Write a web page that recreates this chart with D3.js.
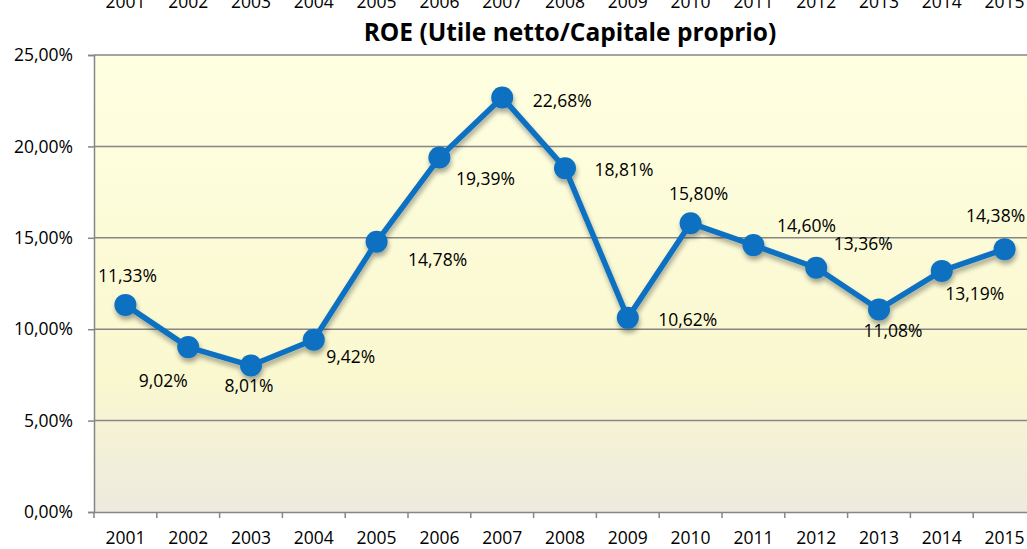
<!DOCTYPE html>
<html><head><meta charset="utf-8">
<script src="https://cdn.jsdelivr.net/npm/d3@7"></script>
<style>body{margin:0;background:#fff;overflow:hidden}svg{display:block}</style>
</head><body>
<svg id="c" width="1027" height="549"></svg>
<script>
const years = ["2001","2002","2003","2004","2005","2006","2007","2008","2009","2010","2011","2012","2013","2014","2015"];
const roe = [11.33, 9.02, 8.01, 9.42, 14.78, 19.39, 22.68, 18.81, 10.62, 15.80, 14.60, 13.36, 11.08, 13.19, 14.38];
const yTicks = [0, 5, 10, 15, 20, 25];
const title = "ROE (Utile netto/Capitale proprio)";
// label placement offsets (styling)
const labelDx = [2, -25, -2, 37, 61, 46, 60, 59, 60, 8, 53, 47, 14, 33, -9];
const labelDy = [-29, 34, 20, 17, 18, 21, 3, 2, 2, -29, -19, -24, 21, 23, -33];

const svg = d3.select("#c");
const L = 94, T = 55, B = 512, bw = 62.8;
const R = L + bw * years.length;
const FONT = "'Open Sans', 'Noto Sans', sans-serif";
const FS = 17.5;
const fmt = v => d3.format(".2f")(v).replace(".", ",") + "%";

const x = d3.scaleBand().domain(years).range([L, R]).padding(0);
const y = d3.scaleLinear().domain([0, 25]).range([B, T]);

const defs = svg.append("defs");
const g = defs.append("linearGradient").attr("id", "bg").attr("x1", 0).attr("y1", 0).attr("x2", 0).attr("y2", 1);
g.append("stop").attr("offset", "0%").attr("stop-color", "#FFFFE2");
g.append("stop").attr("offset", "70%").attr("stop-color", "#FAF8CF");
g.append("stop").attr("offset", "100%").attr("stop-color", "#EDEADF");
const f = defs.append("filter").attr("id", "sh").attr("x", "-10%").attr("y", "-10%").attr("width", "130%").attr("height", "140%");
f.append("feGaussianBlur").attr("in", "SourceAlpha").attr("stdDeviation", 2.5).attr("result", "b");
f.append("feOffset").attr("in", "b").attr("dx", 1).attr("dy", 4).attr("result", "o");
f.append("feComponentTransfer").attr("in", "o").attr("result", "o2").append("feFuncA").attr("type", "linear").attr("slope", 0.35);
const m = f.append("feMerge");
m.append("feMergeNode").attr("in", "o2");
m.append("feMergeNode").attr("in", "SourceGraphic");

svg.append("rect").attr("x", L).attr("y", T).attr("width", R - L).attr("height", B - T).attr("fill", "url(#bg)");

// gridlines
svg.append("g").selectAll("line").data(yTicks.filter(d => d > 0)).join("line")
  .attr("x1", L).attr("x2", R).attr("y1", d => y(d)).attr("y2", d => y(d))
  .attr("stroke", "#868686").attr("stroke-width", 1.5);

// y axis
const ya = svg.append("g").attr("transform", `translate(${L},0)`)
  .call(d3.axisLeft(y).tickValues(yTicks).tickSize(6).tickPadding(15).tickFormat(fmt));
ya.select(".domain").attr("stroke", "#868686").attr("stroke-width", 1.5);
ya.selectAll(".tick line").attr("stroke", "#868686").attr("stroke-width", 1.5);
ya.selectAll("text").attr("font-family", FONT).attr("font-size", FS).attr("fill", "#000");

// x axis (ticks at band boundaries)
const xa = svg.append("g").attr("transform", `translate(0,${B})`)
  .call(d3.axisBottom(x).tickSize(0).tickPadding(20));
xa.select(".domain").attr("stroke", "#868686").attr("stroke-width", 1.5);
xa.selectAll("text").attr("font-family", FONT).attr("font-size", FS).attr("fill", "#000");
svg.append("g").selectAll("line").data(years).join("line")
  .attr("x1", d => x(d)).attr("x2", d => x(d)).attr("y1", B).attr("y2", B + 6)
  .attr("stroke", "#868686").attr("stroke-width", 1.5);

// clipped top year labels (as in the reference)
svg.append("g").selectAll("text").data(years).join("text")
  .attr("x", d => x(d) + bw / 2).attr("y", 8).attr("text-anchor", "middle")
  .attr("font-family", FONT).attr("font-size", FS).attr("fill", "#000").text(d => d);

// title
svg.append("text").attr("x", 570).attr("y", 41).attr("text-anchor", "middle")
  .attr("font-family", FONT).attr("font-weight", "bold").attr("font-size", 24.5).attr("fill", "#000").text(title);

// line + markers
const sg = svg.append("g").attr("filter", "url(#sh)");
sg.append("path").datum(roe).attr("fill", "none").attr("stroke", "#0A70C0").attr("stroke-width", 5.5)
  .attr("stroke-linejoin", "round")
  .attr("d", d3.line().x((d, i) => x(years[i]) + bw / 2).y(d => y(d)));
sg.selectAll("circle").data(roe).join("circle")
  .attr("cx", (d, i) => x(years[i]) + bw / 2).attr("cy", d => y(d)).attr("r", 11)
  .attr("fill", "#0A70C0");

// data labels
svg.append("g").selectAll("text").data(roe).join("text")
  .attr("x", (d, i) => x(years[i]) + bw / 2 + labelDx[i])
  .attr("y", (d, i) => y(d) + labelDy[i])
  .attr("dy", "0.35em").attr("text-anchor", "middle")
  .attr("font-family", FONT).attr("font-size", FS).attr("fill", "#000").text(d => fmt(d));
</script>
</body></html>
